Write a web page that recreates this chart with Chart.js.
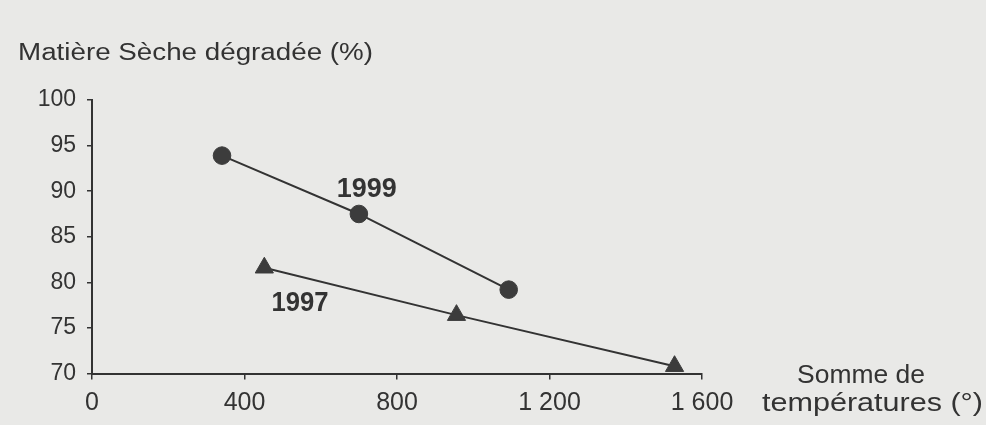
<!DOCTYPE html>
<html>
<head>
<meta charset="utf-8">
<script src="https://cdn.jsdelivr.net/npm/chart.js@4.4.1/dist/chart.umd.min.js"></script>
<style>
  html, body { margin: 0; padding: 0; background: #e9e9e7; }
  #wrap { width: 986px; height: 425px; position: relative; }
</style>
</head>
<body>
<div id="wrap"><canvas id="c"></canvas></div>
<script>
// ---- data ----
const xTickValues = [0, 400, 800, 1200, 1600];
const xTickLabels = ['0', '400', '800', '1 200', '1 600'];
const yTickValues = [70, 75, 80, 85, 90, 95, 100];

const series1999Name = '1999';
const series1999X = [341, 700, 1093];
const series1999Y = [93.9, 87.5, 79.2];

const series1997Name = '1997';
const series1997X = [452, 956, 1528];
const series1997Y = [81.6, 76.4, 70.8];

const yAxisTitle = 'Matière Sèche dégradée (%)';
const xAxisTitle = ['Somme de', 'températures (°)'];

// ---- build chart ----
const ink = '#333333';
const toPts = (xs, ys) => xs.map((x, i) => ({ x: x, y: ys[i] }));

function drawStretched(ctx, text, x, baseline, font, targetWidth) {
  ctx.save();
  ctx.font = font;
  ctx.fillStyle = ink;
  ctx.textAlign = 'left';
  ctx.textBaseline = 'alphabetic';
  const w = ctx.measureText(text).width;
  const sx = targetWidth ? targetWidth / w : 1;
  ctx.translate(x, baseline);
  ctx.scale(sx, 1);
  ctx.fillText(text, 0, 0);
  ctx.restore();
}

const textPlugin = {
  id: 'texts',
  afterDraw(chart) {
    const ctx = chart.ctx;
    drawStretched(ctx, yAxisTitle, 18, 60, '23px "Liberation Sans", Arial, sans-serif', 355);
    drawStretched(ctx, xAxisTitle[0], 797, 383, '25px "Liberation Sans", Arial, sans-serif', 128);
    drawStretched(ctx, xAxisTitle[1], 762, 411, '25px "Liberation Sans", Arial, sans-serif', 221);
    const xs = chart.scales.x, ys = chart.scales.y;
    // series labels anchored in data space
    drawStretched(ctx, series1999Name, xs.getPixelForValue(642), ys.getPixelForValue(89.4), 'bold 27px "Liberation Sans", Arial, sans-serif', 60);
    drawStretched(ctx, series1997Name, xs.getPixelForValue(471), ys.getPixelForValue(76.9), 'bold 27px "Liberation Sans", Arial, sans-serif', 57);
  }
};

new Chart(document.getElementById('c'), {
  type: 'line',
  data: {
    datasets: [
      {
        label: series1999Name,
        data: toPts(series1999X, series1999Y),
        borderColor: ink,
        borderWidth: 2,
        pointStyle: 'circle',
        pointRadius: 8.8,
        pointBackgroundColor: '#3c3c3c',
        pointBorderColor: '#3c3c3c',
        pointBorderWidth: 1,
        tension: 0,
        fill: false
      },
      {
        label: series1997Name,
        data: toPts(series1997X, series1997Y),
        borderColor: ink,
        borderWidth: 2,
        pointStyle: 'triangle',
        pointRadius: 10.5,
        pointBackgroundColor: '#3c3c3c',
        pointBorderColor: '#3c3c3c',
        pointBorderWidth: 1,
        tension: 0,
        fill: false
      }
    ]
  },
  options: {
    responsive: true,
    maintainAspectRatio: false,
    animation: false,
    events: [],
    layout: { padding: { left: 0, right: 284, top: 100, bottom: 0 } },
    plugins: { legend: { display: false }, tooltip: { enabled: false }, title: { display: false } },
    scales: {
      x: {
        type: 'linear',
        min: 0, max: 1600,
        afterBuildTicks(scale) { scale.ticks = xTickValues.map(v => ({ value: v })); },
        afterFit(scale) { scale.height = 51.5; },
        ticks: {
          autoSkip: false,
          maxRotation: 0,
          padding: 9,
          color: ink,
          font: { family: '"Liberation Sans", Arial, sans-serif', size: 25 },
          callback(value) { const i = xTickValues.indexOf(value); return i >= 0 ? xTickLabels[i] : ''; }
        },
        grid: { display: true, drawOnChartArea: false, drawTicks: true, tickLength: 6, color: ink, lineWidth: 1.5 },
        border: { display: true, color: ink, width: 2 }
      },
      y: {
        type: 'linear',
        min: 70, max: 100,
        afterBuildTicks(scale) { scale.ticks = yTickValues.map(v => ({ value: v })); },
        afterFit(scale) { scale.width = 92; },
        ticks: {
          autoSkip: false,
          padding: 11,
          color: ink,
          font: { family: '"Liberation Sans", Arial, sans-serif', size: 23 }
        },
        grid: { display: true, drawOnChartArea: false, drawTicks: true, tickLength: 5, color: ink, lineWidth: 1.5 },
        border: { display: true, color: ink, width: 2 }
      }
    }
  },
  plugins: [textPlugin]
});
</script>
</body>
</html>
